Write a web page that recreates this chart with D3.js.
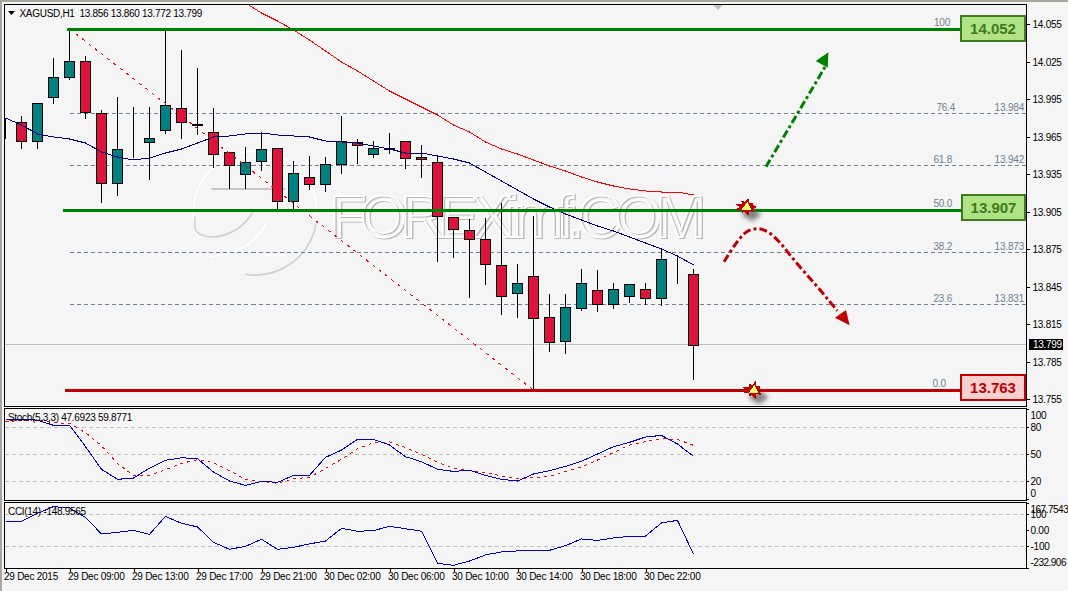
<!DOCTYPE html>
<html>
<head>
<meta charset="utf-8">
<script src="https://cdn.jsdelivr.net/npm/d3@7/dist/d3.min.js"></script>
<style>
  html, body { margin: 0; padding: 0; background: #f5f5f5; overflow: hidden; }
  svg { display: block; font-family: "Liberation Sans", Arial, sans-serif; }
  .ui { font-size: 10px; letter-spacing: -0.3px; fill: #000; }
  .axis text { font-size: 10px; letter-spacing: -0.25px; fill: #000; font-family: "Liberation Sans", Arial, sans-serif; }
  .axis line { stroke: #000; shape-rendering: crispEdges; }
  .axis path { display: none; }
</style>
</head>
<body>
<div id="chart"></div>
<script>
// XAGUSD hourly candles, 29-30 Dec 2015
const opens = [13.9775,13.9775,13.9623,13.9975,14.0135,14.0263,13.9847,13.9287,13.9607,13.9615,13.9711,13.9887,13.9751,13.9695,13.9535,13.9359,13.9463,13.9567,13.9143,13.9335,13.9279,13.9439,13.9615,13.9519,13.9559,13.9623,13.9495,13.9455,13.9015,13.8911,13.8839,13.8631,13.8407,13.8543,13.8215,13.8023,13.8287,13.8431,13.8319,13.8383,13.8439,13.8367,13.8543,13.856];
const highs = [13.9807,13.9823,13.9927,14.0287,14.052,14.0303,13.9871,13.9975,13.9895,13.9895,14.0511,14.0351,14.0207,13.9887,13.9535,13.9575,13.9695,13.9567,13.9463,13.9503,13.9495,13.9823,13.9639,13.9623,13.9687,13.9623,13.9591,13.9511,13.9015,13.8999,13.9007,13.9127,13.8639,13.9023,13.8399,13.8399,13.8599,13.8591,13.8487,13.8479,13.8487,13.8751,13.8695,13.860];
const lows = [13.9647,13.9567,13.9567,13.9927,14.0119,13.9807,13.9135,13.9191,13.9495,13.9319,13.9687,13.9647,13.9679,13.9415,13.9247,13.9247,13.9391,13.9087,13.9087,13.9239,13.9223,13.9367,13.9447,13.9495,13.9527,13.9407,13.9335,13.8663,13.8695,13.8375,13.8479,13.8239,13.8215,13.763,13.7943,13.7927,13.8271,13.8263,13.8287,13.8335,13.8319,13.8311,13.8487,13.772];
const closes = [13.9775,13.9623,13.9927,14.0135,14.0263,13.9855,13.9287,13.9559,13.9607,13.9647,13.9911,13.9775,13.9759,13.9519,13.9431,13.9455,13.9559,13.9143,13.9367,13.9279,13.9439,13.9623,13.9591,13.9567,13.9567,13.9487,13.9479,13.9023,13.8919,13.8839,13.8639,13.8383,13.8487,13.8207,13.8015,13.8295,13.8487,13.8319,13.8439,13.8479,13.8367,13.8679,13.8543,13.799];

// Moving averages on the price panel
const fastMA = [13.9807,13.9751,13.9679,13.9655,13.9639,13.9607,13.9535,13.9495,13.9471,13.9487,13.9527,13.9559,13.9607,13.9655,13.9663,13.9679,13.9687,13.9671,13.9663,13.9655,13.9623,13.9615,13.9607,13.9583,13.9559,13.9527,13.9527,13.9503,13.9479,13.9447,13.9375,13.9303,13.9231,13.9159,13.9095,13.9039,13.8991,13.8943,13.8903,13.8855,13.8807,13.8759,13.8703,13.8631];
const slowMAStart = 14;
const slowMA = [14.0799,14.0727,14.0647,14.0583,14.0511,14.0431,14.0343,14.0255,14.0183,14.0103,14.0023,13.9959,13.9895,13.9831,13.9751,13.9695,13.9615,13.9559,13.9519,13.9471,13.9423,13.9383,13.9335,13.9295,13.9263,13.9239,13.9223,13.9215,13.9215,13.9191];

// Oscillators
const stochMain = [88.8,88.8,88,82.2,82.2,58.5,33.3,22.2,23.6,34.7,43.3,46.2,45.1,30.3,20.3,15.5,20,18.8,26.6,26.6,46.6,54.7,66.6,66.6,60.3,47.3,41.8,33.3,31,32.2,26.6,22.2,20.3,28.1,31.8,36.6,42.2,50.3,58.5,63.3,69.2,71,61.4,47.6923];
const stochSignal = [86.6,87.3,88,85.1,84.4,74,59.6,39.9,26.6,26.6,32.9,39.9,44,40.7,31.8,22.2,20,17.7,22.9,24.4,34.4,44.4,56.2,62.9,64,57.3,49.9,41,34.7,32.2,29.6,25.9,22.9,24,25.5,31,36.2,43.6,51.8,60.3,64,67.3,66.6,59.8771];
const cciValues = [56,56,106,148,140,81,-23,-13,0,-25,87,44,21,-75,-119,-100,-56,-119,-106,-85,-67,12,-6,-2,25,10,-6,-206,-219,-192,-154,-135,-129,-125,-125,-96,-54,-63,-48,-38,-36,46,62,-148.9565];

// Axis labels
const priceTicks = [14.055,14.025,13.995,13.965,13.935,13.905,13.875,13.845,13.815,13.785,13.755];
const timeTickBars = [0,4,8,12,16,20,24,28,32,36,40];
const timeTickLabels = ["29 Dec 2015","29 Dec 09:00","29 Dec 13:00","29 Dec 17:00","29 Dec 21:00","30 Dec 02:00","30 Dec 06:00","30 Dec 10:00","30 Dec 14:00","30 Dec 18:00","30 Dec 22:00"];
const stochTicks = [100,80,50,20,0];
const cciTicks = [167.7543,100,0,-100,-232.906];
const cciTickLabels = ["167.7543","100","0.00","-100","-232.906"];

// Fibonacci retracement between the swing high and low
const fibHigh = 14.052, fibLow = 13.763, fibMid = 13.907, lastClose = 13.799;
const fibStartBar = 4, fibEndBar = 33;
const fibNames = ["76.4","61.8","38.2","23.6"];
const fibPrices = [13.984,13.942,13.873,13.831];

// Scenario sketches, as [bar, price]
const upPath = [[47.53,13.9417],[51.22,14.0215]];
const upHead = [[51.43,14.0333],[50.64,14.0263],[51.39,14.0209]];
const downPath = [[44.91,13.8657],[45.59,13.8791],[46.33,13.8897],[47.05,13.8921],[47.68,13.8893],[48.41,13.8809],[49.03,13.8711],[49.86,13.8585],[50.7,13.8463],[51.43,13.8351],[51.99,13.8265]];
const downHead = [[52.53,13.8271],[51.84,13.8209],[52.76,13.8149]];
const burstSpots = [[46.3,13.9095],[46.75,13.763]];
const burstRadii = [11,7,10,6,12,7,9,6,11,7,12,6,10,7,12,6,9,7];

const width = 1068, height = 591;
const left = 4.5, right = 1026.5;

const x = d3.scaleLinear().domain([0, 43]).range([5.5, 693.5]);
const y = d3.scaleLinear().domain([13.755, 14.055]).range([400.125, 25.125]);
const yStoch = d3.scaleLinear().domain([0, 100]).range([499.3, 409.3]);
const yCci = d3.scaleLinear().domain([-100, 100]).range([546.3, 514.3]);
const snap = v => Math.round(v) + 0.5;
const snapLow = v => Math.floor(v - 0.5) + 0.5;

const svg = d3.select("#chart").append("svg").attr("width", width).attr("height", height);
const defs = svg.append("defs");
defs.append("clipPath").attr("id", "priceClip").append("rect")
  .attr("x", left).attr("y", 4.5).attr("width", right - left).attr("height", 402);
defs.append("clipPath").attr("id", "stochClip").append("rect")
  .attr("x", left).attr("y", 408.5).attr("width", right - left).attr("height", 92);
defs.append("clipPath").attr("id", "cciClip").append("rect")
  .attr("x", left).attr("y", 502.5).attr("width", right - left).attr("height", 66);
defs.append("filter").attr("id", "soft").attr("x", "-50%").attr("y", "-50%").attr("width", "200%").attr("height", "200%")
  .append("feGaussianBlur").attr("stdDeviation", 2.2);

// Window edges and panel frames
svg.append("rect").attr("width", width).attr("height", height).attr("fill", "#f5f5f5");
svg.append("rect").attr("width", width).attr("height", 2).attr("fill", "#a9a79c");
svg.append("rect").attr("width", 2).attr("height", height).attr("fill", "#a9a79c");

const price = svg.append("g").attr("clip-path", "url(#priceClip)");

// Embossed site mark, lying under the candles
const mark = price.append("g").attr("fill", "none").attr("stroke-linecap", "round");
const ring = d3.arc().innerRadius(62).outerRadius(62);
const markTone = (color, startA, endA) => mark.append("path")
  .attr("d", ring({ startAngle: startA, endAngle: endA }))
  .attr("transform", "translate(255,213)")
  .attr("stroke", color).attr("stroke-width", 1.6);
markTone("#ffffff", -2.0, 1.9);
markTone("#cfcfcf", 1.7, 3.3);
mark.append("path").attr("d", "M195,217 C193,232 197,236 213,237 C228,236 244,228 252,213").attr("stroke", "#cfcfcf").attr("stroke-width", 1.6);
mark.append("path").attr("d", "M265,225 C258,240 242,253 210,257").attr("stroke", "#ffffff").attr("stroke-width", 1.8);
mark.append("line").attr("x1", 212).attr("x2", 285).attr("y1", 189).attr("y2", 189).attr("stroke", "#999").attr("stroke-width", 1.6).attr("opacity", 0.65);
mark.append("line").attr("x1", 265).attr("x2", 285).attr("y1", 255).attr("y2", 255).attr("stroke", "#fff").attr("stroke-width", 1.6);
const markWord = (dx, dy, color, opacity) => mark.append("text")
  .attr("x", 330 + dx).attr("y", 237 + dy)
  .attr("textLength", 376).attr("lengthAdjust", "spacing")
  .attr("font-size", 60)
  .attr("stroke", color).attr("stroke-width", 1.8).attr("opacity", opacity)
  .text("FOREXimf.COM");
markWord(1, 1, "#a8a8a8", 0.75);
markWord(-0.5, -0.5, "#ffffff", 1);

// Dashed retracement levels
price.selectAll("line.fib").data(fibPrices).join("line")
  .attr("class", "fib")
  .attr("x1", x(fibStartBar)).attr("x2", right)
  .attr("y1", d => snapLow(y(d))).attr("y2", d => snapLow(y(d)))
  .attr("stroke", "#708090").attr("stroke-dasharray", "4 3")
  .attr("shape-rendering", "crispEdges");

// Last close line
price.append("line").attr("x1", left).attr("x2", right)
  .attr("y1", snap(y(lastClose)) - 1).attr("y2", snap(y(lastClose)) - 1)
  .attr("stroke", "#c0c0c0").attr("shape-rendering", "crispEdges");

// Candles: wicks, then bodies
const bars = d3.range(opens.length);
const candles = price.append("g").attr("shape-rendering", "crispEdges");
candles.selectAll("line").data(bars).join("line")
  .attr("x1", x).attr("x2", x)
  .attr("y1", i => Math.round(y(highs[i])))
  .attr("y2", i => Math.round(y(lows[i])) + 1)
  .attr("stroke", "#000");
candles.selectAll("rect").data(bars).join("rect")
  .attr("x", i => x(i) - 5)
  .attr("width", 10)
  .attr("y", i => Math.round(y(Math.max(opens[i], closes[i]))) + 0.5)
  .attr("height", i => Math.round(y(Math.min(opens[i], closes[i]))) - Math.round(y(Math.max(opens[i], closes[i]))))
  .attr("fill", i => closes[i] >= opens[i] ? "#008080" : "#dc143c")
  .attr("stroke", "#000");

// Diagonal of the retracement
price.append("line")
  .attr("x1", x(fibStartBar)).attr("y1", y(fibHigh))
  .attr("x2", x(fibEndBar)).attr("y2", y(fibLow))
  .attr("stroke", "#ff0000").attr("stroke-dasharray", "3 5")
  .attr("shape-rendering", "crispEdges");

// Moving averages
const priceLine = d3.line().x(d => x(d[0])).y(d => y(d[1]));
price.append("path").datum(fastMA.map((v, i) => [i, v])).attr("d", priceLine)
  .attr("fill", "none").attr("stroke", "#000080").attr("shape-rendering", "crispEdges");
price.append("path").datum(slowMA.map((v, i) => [i + slowMAStart, v])).attr("d", priceLine)
  .attr("fill", "none").attr("stroke", "#ff0000").attr("shape-rendering", "crispEdges");

// Horizontal trading levels
const levels = [
  { p: fibHigh, from: 67, color: "#008000" },
  { p: fibMid, from: 63, color: "#008000" },
  { p: fibLow, from: 65, color: "#c00000" }
];
price.selectAll("line.level").data(levels).join("line")
  .attr("class", "level")
  .attr("x1", d => d.from).attr("x2", right)
  .attr("y1", d => snap(y(d.p))).attr("y2", d => snap(y(d.p)))
  .attr("stroke", d => d.color).attr("stroke-width", 3)
  .attr("shape-rendering", "crispEdges");

// Scenario arrows
const sketch = (pts, color) => price.append("path").datum(pts)
  .attr("d", d3.line().x(d => x(d[0])).y(d => y(d[1])).curve(d3.curveCatmullRom))
  .attr("fill", "none").attr("stroke", color).attr("stroke-width", 3)
  .attr("stroke-dasharray", "8 3 3 3");
const head = (pts, color) => price.append("polygon")
  .attr("points", pts.map(d => [x(d[0]), y(d[1])].join(",")).join(" "))
  .attr("fill", color);
sketch(upPath, "#008000"); head(upHead, "#008000");
sketch(downPath, "#c00000"); head(downHead, "#c00000");

// Impact bursts on the two touched levels
const burstPoints = (cx, cy, k) => burstRadii.map((r, i) => {
  const a = i / burstRadii.length * 2 * Math.PI;
  return [cx + Math.cos(a) * r * k, cy + Math.sin(a) * r * k * 0.75].join(",");
}).join(" ");
burstSpots.forEach(([b, p]) => {
  const cx = x(b), cy = y(p);
  price.append("polygon").attr("points", burstPoints(cx + 5, cy + 7, 1))
    .attr("fill", "#555").attr("opacity", 0.7).attr("filter", "url(#soft)");
  price.append("polygon").attr("points", burstPoints(cx, cy, 1)).attr("fill", "#c00000")
    .attr("shape-rendering", "crispEdges");
  price.append("polygon").attr("points", `${cx - 5},${cy + 3} ${cx + 1},${cy - 5} ${cx + 5},${cy + 3}`)
    .attr("fill", "#ffff66").attr("shape-rendering", "crispEdges");
});

// Frames
[[4.5, 402], [408.5, 92], [502.5, 66]].forEach(([top, h]) => {
  svg.append("rect").attr("x", left).attr("y", top).attr("width", right - left).attr("height", h)
    .attr("fill", "none").attr("stroke", "#000").attr("shape-rendering", "crispEdges");
});

// Retracement captions
const fibText = svg.append("g").attr("font-size", 10).attr("fill", "#708090");
[["100", fibHigh, 934], [fibNames[0], fibPrices[0], 936.5], [fibNames[1], fibPrices[1], 933.5], ["50.0", fibMid, 933.5],
 [fibNames[2], fibPrices[2], 933.5], [fibNames[3], fibPrices[3], 933.5], ["0.0", fibLow, 932.5]].forEach(([t, p, px]) => {
  fibText.append("text").attr("x", px).attr("y", snapLow(y(p)) - 3).attr("letter-spacing", -0.2).text(t);
});
fibPrices.forEach(p => {
  fibText.append("text").attr("x", 1024).attr("y", snapLow(y(p)) - 3).attr("text-anchor", "end")
    .attr("letter-spacing", -0.2).text(p.toFixed(3));
});

// Level boxes
const boxes = [
  { p: fibHigh, y0: 16, x0: 961, stroke: "#3f7a1e", fill: "#b0e383", text: "#3f7a1e" },
  { p: fibMid, y0: 195, x0: 962, stroke: "#3f7a1e", fill: "#b0e383", text: "#3f7a1e" },
  { p: fibLow, y0: 375, x0: 961, stroke: "#c00000", fill: "#f8d0d0", text: "#c00000" }
];
boxes.forEach(d => {
  svg.append("rect").attr("x", d.x0).attr("y", d.y0).attr("width", 1025 - d.x0).attr("height", 25)
    .attr("fill", d.fill).attr("stroke", d.stroke).attr("stroke-width", 2).attr("shape-rendering", "crispEdges");
  svg.append("text").attr("x", (d.x0 + 1025) / 2).attr("y", d.y0 + 18).attr("text-anchor", "middle")
    .attr("font-size", 15).attr("font-weight", "bold").attr("fill", d.text).text(d.p.toFixed(3));
});

// Oscillator panels
const stoch = svg.append("g").attr("clip-path", "url(#stochClip)");
const cci = svg.append("g").attr("clip-path", "url(#cciClip)");
const hGrid = (g, scale, vals) => g.selectAll("line.grid").data(vals).join("line")
  .attr("class", "grid").attr("x1", left).attr("x2", right)
  .attr("y1", d => Math.floor(scale(d)) + 0.5).attr("y2", d => Math.floor(scale(d)) + 0.5)
  .attr("stroke", "#c0c0c0").attr("stroke-dasharray", "4 3").attr("shape-rendering", "crispEdges");
hGrid(stoch, yStoch, [80, 50, 20]);
hGrid(cci, yCci, [100, -100]);
const oscLine = scale => d3.line().x((d, i) => x(i)).y(d => scale(d));
stoch.append("path").attr("d", oscLine(yStoch)(stochSignal)).attr("fill", "none")
  .attr("stroke", "#ff0000").attr("stroke-dasharray", "3 4").attr("shape-rendering", "crispEdges");
stoch.append("path").attr("d", oscLine(yStoch)(stochMain)).attr("fill", "none")
  .attr("stroke", "#0000d0").attr("shape-rendering", "crispEdges");
cci.append("path").attr("d", oscLine(yCci)(cciValues)).attr("fill", "none")
  .attr("stroke", "#0000d0").attr("shape-rendering", "crispEdges");

// Axes
const gPrice = svg.append("g").attr("class", "axis").attr("transform", `translate(${right},-0.7)`)
  .call(d3.axisRight(y).tickValues(priceTicks).tickFormat(d3.format(".3f")).tickSize(3).tickPadding(3));
const gStoch = svg.append("g").attr("class", "axis").attr("transform", `translate(${right},0)`)
  .call(d3.axisRight(yStoch).tickValues(stochTicks).tickFormat(d3.format("d")).tickSize(2).tickPadding(2));
gStoch.selectAll(".tick text").attr("dy", d => d === 100 ? 9.5 : d === 0 ? -2.5 : 3.5);
const gCci = svg.append("g").attr("class", "axis").attr("transform", `translate(${right},0)`)
  .call(d3.axisRight(yCci).tickValues(cciTicks).tickFormat((d, i) => cciTickLabels[i]).tickSize(2).tickPadding(2));
gCci.selectAll(".tick text")
  .attr("dy", d => d === 167.7543 ? 9 : d === -232.906 ? -2.5 : 3.5)
  .style("letter-spacing", d => d === 167.7543 || d === -232.906 ? "-0.5px" : null);
const gTime = svg.append("g").attr("class", "axis").attr("transform", "translate(0,568.5)")
  .call(d3.axisBottom(x).tickValues(timeTickBars).tickFormat((d, i) => timeTickLabels[i]).tickSize(3).tickPadding(1));
gTime.selectAll(".tick text").attr("text-anchor", "start").attr("dx", -2);

// Last price flag
svg.append("rect").attr("x", 1029).attr("y", 339).attr("width", 34).attr("height", 11).attr("fill", "#000");
svg.append("text").attr("x", 1033).attr("y", 348).attr("class", "ui").style("fill", "#fff").text(lastClose.toFixed(3));

// Panel captions
svg.append("path").attr("d", "M8,11 L15,11 L11.5,15 Z").attr("fill", "#000");
svg.append("path").attr("d", "M713,5 L723,5 L718,10 Z").attr("fill", "#c0c0c0");
svg.append("text").attr("class", "ui").attr("x", 19.5).attr("y", 16.5)
  .attr("xml:space", "preserve")
  .text(`XAGUSD,H1  ${opens[43].toFixed(3)} ${highs[43].toFixed(3)} ${lows[43].toFixed(3)} ${closes[43].toFixed(3)}`);
svg.append("text").attr("class", "ui").attr("x", 8).attr("y", 421)
  .text(`Stoch(5,3,3) ${stochMain[43].toFixed(4)} ${stochSignal[43].toFixed(4)}`);
svg.append("text").attr("class", "ui").attr("x", 8).attr("y", 515)
  .text(`CCI(14) ${cciValues[43].toFixed(4)}`);
</script>
</body>
</html>
